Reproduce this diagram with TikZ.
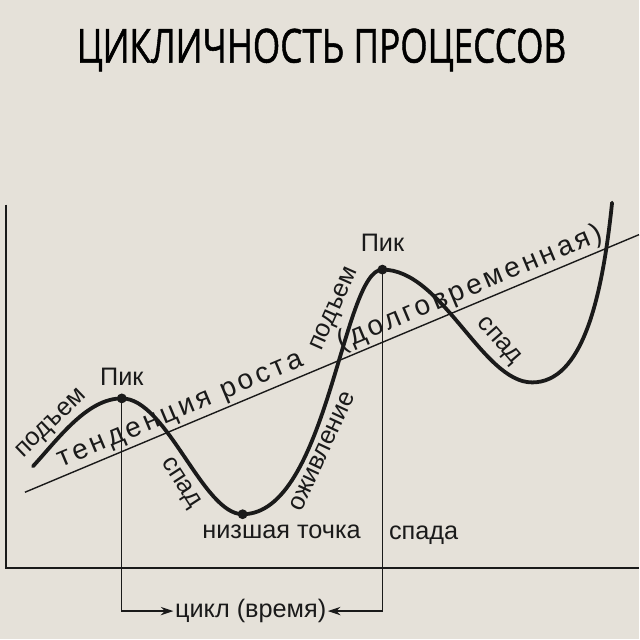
\documentclass[tikz,border=0pt]{standalone}
\usepackage{fontspec}
\usepackage{graphicx}
\setmainfont{Liberation Sans}
\newfontfamily\titlefont[FakeBold=1.2]{Open Sans}
\usetikzlibrary{arrows.meta,positioning}
\definecolor{paper}{HTML}{E5E1D9}
\definecolor{ink}{HTML}{1A1A1A}

\begin{document}
\begin{tikzpicture}[x=0.025cm, y=-0.025cm, >={Stealth[length=9pt,width=6pt]},
  lbl/.style={font=\fontsize{18}{21}\selectfont, text=ink, inner sep=1pt},
  trend/.style={font=\fontsize{20}{23}\selectfont\addfontfeatures{LetterSpace=12}, text=ink, sloped, above, inner sep=1.5pt},
  dot/.style={circle, fill=ink, inner sep=0pt, minimum size=7pt}]
  \fill[paper] (0,0) rectangle (640,640);
  \node[inner sep=0pt] (title) at (322,50) {\titlefont\resizebox{12.25cm}{0.85cm}{ЦИКЛИЧНОСТЬ ПРОЦЕССОВ}};
  % axes
  \draw[ink, line width=1.4pt] (6,205) -- (6,569) -- (640,569);
  % long-term trend
  \coordinate (tr0) at (25,493);
  \coordinate (tr1) at (640,235);
  \draw[ink, line width=1pt] (tr0) -- (tr1)
    node[trend, pos=0.263] (tend) {тенденция роста}
    node[trend, pos=0.735] (long) {(долговременная)};
  % the cycle curve
  \draw[ink, line width=2.7pt, line cap=round] (33,467) .. controls (58,440) and (87,399) .. (122,399)
    .. controls (167,399) and (203,515) .. (243,515)
    .. controls (328,515) and (343,270) .. (383,270)
    .. controls (443,270) and (483,383) .. (533,383)
    .. controls (583,383) and (603,300) .. (613,203);
  \node[dot] (pk1) at (122,399) {};
  \node[dot] (low) at (243,515) {};
  \node[dot] (pk2) at (383,270) {};
  \node[lbl, above=4pt of pk1] (pik1) {Пик};
  \node[lbl, above=8pt of pk2] (pik2) {Пик};
  \node[lbl, rotate=44] (up1) at (52,425) {подъем};
  \node[lbl, rotate=-57] (fall1) at (180,484) {спад};
  \node[lbl, rotate=65] (revive) at (323,452) {оживление};
  \node[lbl, rotate=66] (up2) at (336,310) {подъем};
  \node[lbl, rotate=-49] (fall2) at (499,342) {спад};
  \node[lbl] (lowtxt) at (282,533) {низшая точка};
  \node[lbl, anchor=west] (spada) at (388,536) {спада};
  % cycle length
  \node[lbl] (cyc) at (251,612) {цикл (время)};
  \draw[ink, line width=0.9pt, ->] (pk1.center) |- (cyc.west);
  \draw[ink, line width=0.9pt, ->] (pk2.center) |- (cyc.east);
\end{tikzpicture}
\end{document}
